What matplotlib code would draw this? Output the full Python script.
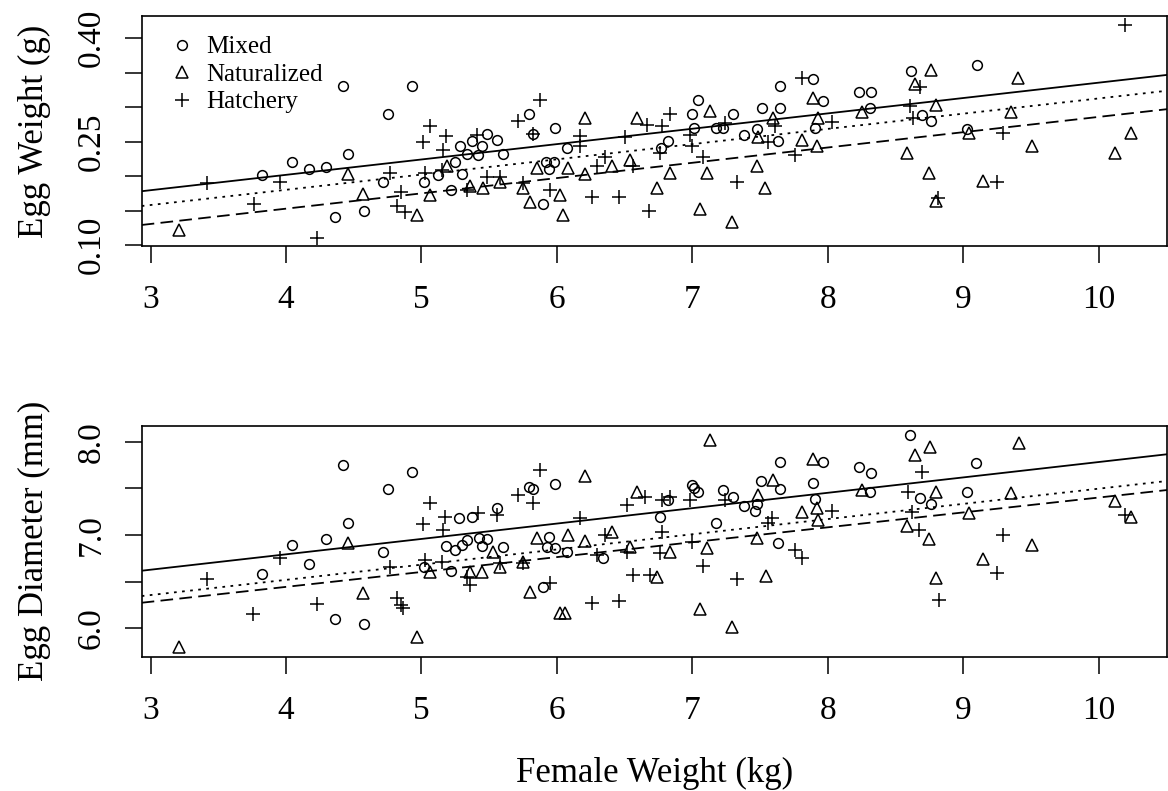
import matplotlib
matplotlib.use('Agg')
import matplotlib.pyplot as plt
import numpy as np

plt.rcParams['font.family'] = ['Liberation Serif', 'DejaVu Serif']

# верхняя панель: вес икринки (г)
mixed_w_x = [4.418, 4.932, 4.755, 4.041, 4.169, 4.295, 3.822, 4.457, 4.718, 4.361, 4.573, 5.018,
             5.124, 5.218, 5.297, 5.247, 5.284, 5.334, 5.371, 5.420, 5.445, 5.482, 5.555, 5.600,
             5.796, 5.826, 5.986, 6.072, 5.920, 5.980, 5.944, 5.900, 7.044, 6.995, 7.013, 7.175,
             7.229, 7.298, 6.818, 6.767, 7.382, 7.513, 7.648, 7.648, 7.476, 7.635, 7.894, 7.968,
             7.906, 8.233, 8.320, 8.312, 9.100, 8.613, 8.761, 8.694, 9.031]
mixed_w_y = [0.331, 0.331, 0.290, 0.221, 0.211, 0.213, 0.202, 0.232, 0.191, 0.140, 0.150, 0.191,
             0.201, 0.180, 0.203, 0.221, 0.243, 0.232, 0.251, 0.231, 0.243, 0.261, 0.252, 0.232,
             0.290, 0.261, 0.270, 0.241, 0.221, 0.221, 0.211, 0.160, 0.310, 0.290, 0.270, 0.270,
             0.270, 0.290, 0.251, 0.241, 0.260, 0.299, 0.331, 0.299, 0.269, 0.251, 0.341, 0.309,
             0.270, 0.322, 0.322, 0.299, 0.361, 0.352, 0.280, 0.289, 0.269]

natur_w_x = [3.211, 4.457, 4.570, 5.063, 4.964, 5.186, 5.358, 5.452, 5.580, 6.209, 6.589, 7.130,
             7.598, 7.894, 7.930, 8.251, 5.851, 6.084, 6.209, 6.405, 6.540, 6.835, 7.106, 7.476,
             7.487, 7.808, 7.918, 5.752, 5.801, 6.023, 6.047, 6.737, 7.537, 7.057, 7.296, 8.761,
             9.408, 8.645, 8.800, 9.352, 9.046, 8.583, 9.511, 10.238, 10.122, 8.748, 9.144, 8.800]
natur_w_y = [0.122, 0.203, 0.174, 0.173, 0.144, 0.214, 0.185, 0.182, 0.192, 0.284, 0.284, 0.294,
             0.284, 0.314, 0.284, 0.293, 0.212, 0.212, 0.203, 0.214, 0.223, 0.204, 0.204, 0.214,
             0.257, 0.252, 0.243, 0.182, 0.163, 0.173, 0.144, 0.183, 0.183, 0.152, 0.133, 0.354,
             0.343, 0.334, 0.303, 0.293, 0.262, 0.233, 0.244, 0.263, 0.233, 0.204, 0.193, 0.164]

hatch_w_x = [3.418, 3.955, 3.763, 4.231, 4.767, 4.849, 4.817, 4.878, 5.063, 5.013, 5.181, 5.161,
             5.026, 5.149, 5.334, 5.408, 5.482, 5.580, 5.875, 5.715, 5.826, 6.171, 6.171, 5.752,
             5.949, 6.257, 6.459, 6.683, 6.355, 6.294, 6.564, 6.503, 6.663, 6.835, 6.774, 6.761,
             6.983, 6.996, 7.081, 7.328, 7.241, 7.808, 7.758, 7.561, 7.611, 8.030, 10.196, 8.682,
             8.608, 8.632, 9.297, 9.248, 8.817]
hatch_w_y = [0.190, 0.192, 0.160, 0.110, 0.204, 0.177, 0.156, 0.148, 0.272, 0.250, 0.258, 0.238,
             0.204, 0.209, 0.180, 0.260, 0.199, 0.199, 0.310, 0.280, 0.261, 0.258, 0.243, 0.190,
             0.180, 0.169, 0.169, 0.149, 0.228, 0.214, 0.214, 0.257, 0.274, 0.290, 0.272, 0.233,
             0.260, 0.243, 0.228, 0.192, 0.277, 0.342, 0.231, 0.250, 0.272, 0.279, 0.420, 0.330,
             0.301, 0.284, 0.262, 0.191, 0.168]

# нижняя панель: диаметр икринки (мм)
mixed_d_x = [4.418, 4.932, 4.755, 4.455, 4.041, 4.295, 4.169, 3.822, 4.718, 4.361, 4.573, 5.018,
             5.218, 5.181, 5.247, 5.297, 5.334, 5.277, 5.371, 5.427, 5.445, 5.482, 5.555, 5.600,
             5.796, 5.821, 5.986, 5.944, 5.924, 5.986, 6.072, 5.900, 6.343, 6.823, 6.761, 6.995,
             7.013, 7.044, 7.175, 7.229, 7.298, 7.382, 7.463, 7.476, 7.505, 7.648, 7.648, 7.635,
             7.894, 7.906, 7.968, 8.233, 8.320, 8.312, 8.608, 9.095, 8.682, 8.761, 9.031]
mixed_d_y = [7.750, 7.672, 7.493, 7.125, 6.893, 6.954, 6.689, 6.582, 6.814, 6.096, 6.043, 6.660,
             6.617, 6.882, 6.839, 6.893, 6.946, 7.185, 7.196, 6.965, 6.882, 6.954, 7.286, 6.875,
             7.518, 7.493, 7.547, 6.982, 6.868, 6.857, 6.821, 6.446, 6.750, 7.375, 7.196, 7.536,
             7.500, 7.464, 7.132, 7.482, 7.404, 7.311, 7.261, 7.329, 7.582, 7.786, 7.493, 6.911,
             7.554, 7.386, 7.786, 7.732, 7.661, 7.464, 8.072, 7.768, 7.393, 7.329, 7.457]

natur_d_x = [3.211, 4.457, 4.570, 4.964, 5.063, 5.358, 5.445, 5.580, 5.530, 7.130, 6.209, 6.589,
             7.487, 7.598, 7.894, 7.918, 7.930, 7.808, 8.251, 5.851, 6.084, 6.209, 6.405, 6.540,
             6.835, 7.106, 7.476, 5.752, 5.801, 6.023, 6.060, 6.737, 7.057, 7.296, 7.544, 8.755,
             9.413, 8.645, 8.800, 9.352, 9.046, 8.583, 8.748, 9.511, 10.122, 10.238, 9.144, 8.800]
natur_d_y = [5.803, 6.911, 6.375, 5.910, 6.607, 6.607, 6.607, 6.660, 6.821, 8.018, 7.636, 7.464,
             7.429, 7.589, 7.815, 7.286, 7.161, 7.250, 7.482, 6.965, 7.000, 6.939, 7.036, 6.875,
             6.821, 6.857, 6.965, 6.714, 6.393, 6.168, 6.168, 6.553, 6.204, 6.011, 6.561, 7.946,
             7.989, 7.857, 7.464, 7.447, 7.232, 7.096, 6.957, 6.893, 7.364, 7.196, 6.739, 6.536]

hatch_d_x = [3.418, 3.758, 3.955, 4.231, 4.767, 4.817, 4.849, 4.866, 5.063, 5.013, 5.173, 5.161,
             5.026, 5.149, 5.334, 5.358, 5.420, 5.555, 5.580, 5.875, 5.715, 5.826, 6.171, 5.752,
             5.949, 6.257, 6.459, 6.355, 6.294, 6.515, 6.515, 6.651, 6.835, 6.774, 6.774, 6.761,
             6.564, 6.687, 6.983, 6.996, 7.081, 7.328, 7.241, 7.586, 7.561, 7.758, 7.808, 8.030,
             8.694, 8.595, 8.620, 8.677, 9.297, 9.248, 8.824, 10.196]
hatch_d_y = [6.525, 6.150, 6.750, 6.257, 6.660, 6.321, 6.250, 6.214, 7.346, 7.114, 7.196, 7.054,
             6.732, 6.714, 6.553, 6.464, 7.239, 7.214, 6.696, 7.697, 7.429, 7.340, 7.179, 6.696,
             6.482, 6.275, 6.293, 7.000, 6.786, 6.821, 7.322, 7.411, 7.411, 7.375, 7.036, 6.811,
             6.571, 6.571, 7.375, 6.929, 6.671, 6.525, 7.375, 7.179, 7.125, 6.839, 6.750, 7.261,
             7.672, 7.464, 7.250, 7.054, 7.000, 6.596, 6.303, 7.214]

# линии регрессии: свободный член и наклон (Mixed, Naturalized, Hatchery)
weight_intercepts = [0.1126, 0.0639, 0.0917]
weight_slopes = [0.0223, 0.0222, 0.0221]
diam_intercepts = [6.1335, 5.806, 5.868]
diam_slopes = [0.1648, 0.1595, 0.1628]

group_names = ['Mixed', 'Naturalized', 'Hatchery']
x_ticks = [3, 4, 5, 6, 7, 8, 9, 10]
weight_ticks = [0.10, 0.15, 0.20, 0.25, 0.30, 0.35, 0.40]
weight_labels = ['0.10', '', '', '0.25', '', '', '0.40']
diam_ticks = [6.0, 6.5, 7.0, 7.5, 8.0]
diam_labels = ['6.0', '', '7.0', '', '8.0']

markers = ['o', '^', '+']
marker_sizes = [7, 9, 10]
line_styles = ['-', (0, (7, 3.5)), (0, (1.5, 3))]


# функция рисования одной панели
def draw_panel(ax, xs, ys, intercepts, slopes, ylim, yticks, ylabels, ylabel):
    for i in range(3):
        ax.plot(xs[i], ys[i], linestyle='none', marker=markers[i], ms=marker_sizes[i],
                mfc='none', mec='black', mew=1.1, label=group_names[i])
        ax.axline((0, intercepts[i]), slope=slopes[i], color='black', lw=1.3,
                  linestyle=line_styles[i])

    ax.set_xlim(2.934, 10.506)
    ax.set_ylim(*ylim)
    ax.set_xticks(x_ticks)
    ax.set_yticks(yticks)
    ax.set_yticklabels(ylabels, rotation=90, va='center')
    ax.tick_params(direction='out', length=12, width=1.1, labelsize=24, pad=16)
    ax.tick_params(axis='y', pad=13)
    ax.set_ylabel(ylabel, fontsize=25, labelpad=18)
    for s in ax.spines.values():
        s.set_linewidth(1.2)


fig = plt.figure(figsize=(11.68, 7.91), dpi=100)
ax1 = fig.add_axes([0.1213, 0.689, 0.878, 0.2908])
ax2 = fig.add_axes([0.1213, 0.1698, 0.878, 0.2917])

draw_panel(ax1, [mixed_w_x, natur_w_x, hatch_w_x], [mixed_w_y, natur_w_y, hatch_w_y],
           weight_intercepts, weight_slopes, (0.0985, 0.4324), weight_ticks, weight_labels,
           'Egg Weight (g)')
draw_panel(ax2, [mixed_d_x, natur_d_x, hatch_d_x], [mixed_d_y, natur_d_y, hatch_d_y],
           diam_intercepts, diam_slopes, (5.696, 8.168), diam_ticks, diam_labels,
           'Egg Diameter (mm)')

ax1.legend(loc='upper left', frameon=False, fontsize=18, handlelength=1.6,
           handletextpad=0.2, borderpad=0.3, borderaxespad=0.5, labelspacing=0.2)

ax2.set_xlabel('Female Weight (kg)', fontsize=25, labelpad=22)

fig.savefig('out.png', dpi=100)
